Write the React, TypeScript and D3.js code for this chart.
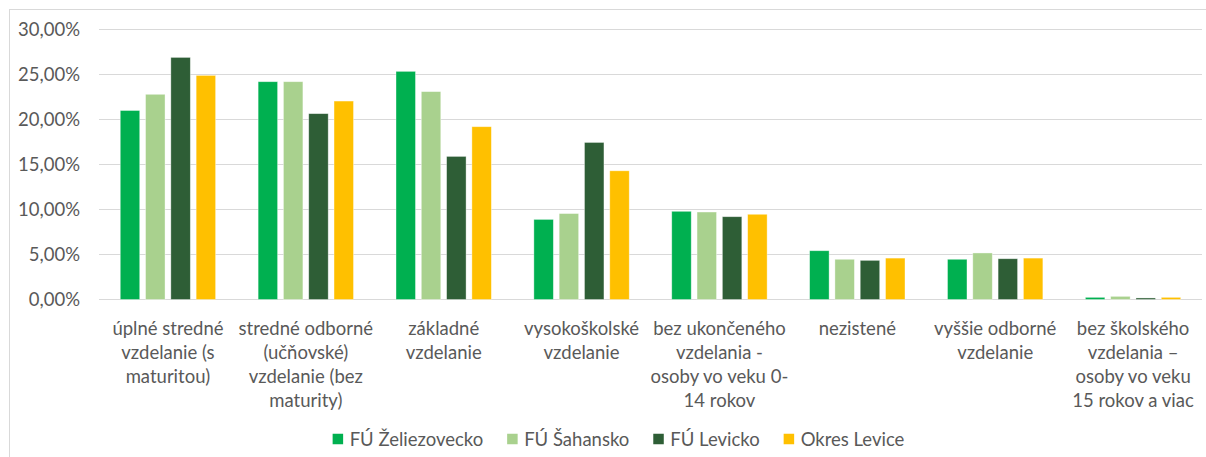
import React, { useEffect, useRef } from "react";
import * as d3 from "d3";

// categories (x axis), wrapped the way the original chart wraps them
const categories = [
  "úplné stredné vzdelanie (s maturitou)",
  "stredné odborné (učňovské) vzdelanie (bez maturity)",
  "základné vzdelanie",
  "vysokoškolské vzdelanie",
  "bez ukončeného vzdelania - osoby vo veku 0-14 rokov",
  "nezistené",
  "vyššie odborné vzdelanie",
  "bez školského vzdelania – osoby vo veku 15 rokov a viac",
];
const categoryLines = [
  ["úplné stredné", "vzdelanie (s", "maturitou)"],
  ["stredné odborné", "(učňovské)", "vzdelanie (bez", "maturity)"],
  ["základné", "vzdelanie"],
  ["vysokoškolské", "vzdelanie"],
  ["bez ukončeného", "vzdelania -", "osoby vo veku 0-", "14 rokov"],
  ["nezistené"],
  ["vyššie odborné", "vzdelanie"],
  ["bez školského", "vzdelania –", "osoby vo veku", "15 rokov a viac"],
];

// series values in %
const seriesNames = ["FÚ Želiezovecko", "FÚ Šahansko", "FÚ Levicko", "Okres Levice"];
const zeliezovecko = [21.0, 24.2, 25.35, 8.9, 9.8, 5.42, 4.47, 0.24];
const sahansko = [22.8, 24.2, 23.1, 9.55, 9.72, 4.47, 5.17, 0.35];
const levicko = [26.9, 20.65, 15.9, 17.45, 9.2, 4.35, 4.53, 0.17];
const okresLevice = [24.9, 22.05, 19.2, 14.3, 9.47, 4.6, 4.6, 0.24];
const seriesColors = ["#00B050", "#A9D18E", "#2E5E36", "#FFC000"];

const yTicks = [0, 5, 10, 15, 20, 25, 30];

const W = 1206;
const H = 457;
const FONT = "Lato, 'Open Sans', sans-serif";
const TEXT = "#595959";

const App = () => {
  const ref = useRef(null);

  useEffect(() => {
    const svg = d3.select(ref.current);
    svg.selectAll("*").remove();

    const values = [zeliezovecko, sahansko, levicko, okresLevice];

    const x = d3.scaleBand().domain(categories).range([99, 1202]).padding(0);
    const xs = d3
      .scaleBand()
      .domain(seriesNames)
      .range([0, x.bandwidth()])
      .paddingInner(0.23)
      .paddingOuter(0.84);
    const y = d3.scaleLinear().domain([0, 30]).range([299.5, 29.5]);

    // chart border (only left/top visible in the crop)
    svg
      .append("rect")
      .attr("x", 9.5)
      .attr("y", 9.5)
      .attr("width", W + 20)
      .attr("height", H + 20)
      .attr("fill", "none")
      .attr("stroke", "#D9D9D9");

    // gridlines
    svg
      .append("g")
      .selectAll("line")
      .data(yTicks)
      .enter()
      .append("line")
      .attr("x1", 99)
      .attr("x2", 1202)
      .attr("y1", (d) => y(d))
      .attr("y2", (d) => y(d))
      .attr("stroke", "#D9D9D9")
      .attr("stroke-width", 1);

    // y labels
    svg
      .append("g")
      .selectAll("text")
      .data(yTicks)
      .enter()
      .append("text")
      .attr("x", 80)
      .attr("y", (d) => y(d))
      .attr("dy", "0.36em")
      .attr("text-anchor", "end")
      .attr("font-family", FONT)
      .attr("font-size", 18.5)
      .attr("fill", TEXT)
      .text((d) => d.toFixed(2).replace(".", ",") + "%");

    // bars
    const groups = svg
      .append("g")
      .selectAll("g")
      .data(categories)
      .enter()
      .append("g")
      .attr("transform", (d) => `translate(${x(d)},0)`);

    groups
      .selectAll("rect")
      .data((d, i) => seriesNames.map((s, j) => ({ s, j, v: values[j][i] })))
      .enter()
      .append("rect")
      .attr("x", (d) => xs(d.s))
      .attr("width", xs.bandwidth())
      .attr("y", (d) => y(d.v))
      .attr("height", (d) => y(0) - y(d.v))
      .attr("fill", (d) => seriesColors[d.j])
      .attr("stroke", "#fff")
      .attr("stroke-opacity", 0.5)
      .attr("stroke-width", 0.75);

    // x labels
    const lab = svg
      .append("g")
      .selectAll("text")
      .data(categories)
      .enter()
      .append("text")
      .attr("text-anchor", "middle")
      .attr("font-family", FONT)
      .attr("font-size", 18.5)
      .attr("fill", TEXT);
    lab
      .selectAll("tspan")
      .data((d, i) => categoryLines[i].map((t) => ({ t, c: d })))
      .enter()
      .append("tspan")
      .attr("x", (d) => x(d.c) + x.bandwidth() / 2)
      .attr("y", (d, k) => 334.5 + k * 24.3)
      .text((d) => d.t);

    // legend
    const leg = svg.append("g");
    const items = seriesNames.map((name, j) => {
      const g = leg.append("g");
      g.append("rect")
        .attr("width", 10.5)
        .attr("height", 10.5)
        .attr("y", -5.25)
        .attr("fill", seriesColors[j]);
      const t = g
        .append("text")
        .attr("x", 17)
        .attr("dy", "0.36em")
        .attr("font-family", FONT)
        .attr("font-size", 18.5)
        .attr("fill", TEXT)
        .text(name);
      const w = (t.node() as SVGTextElement).getComputedTextLength();
      return { g, w: 17 + w };
    });
    const gap = 24;
    const total = d3.sum(items, (d) => d.w) + gap * (items.length - 1);
    let cx = 618.5 - total / 2;
    items.forEach((it) => {
      it.g.attr("transform", `translate(${cx},439)`);
      cx += it.w + gap;
    });

    return () => {
      svg.selectAll("*").remove();
    };
  }, []);

  return (
    <div style={{ position: "absolute", left: 0, top: 0, background: "#fff" }}>
      <svg ref={ref} width={W} height={H} style={{ display: "block" }} />
    </div>
  );
};

export default App;
